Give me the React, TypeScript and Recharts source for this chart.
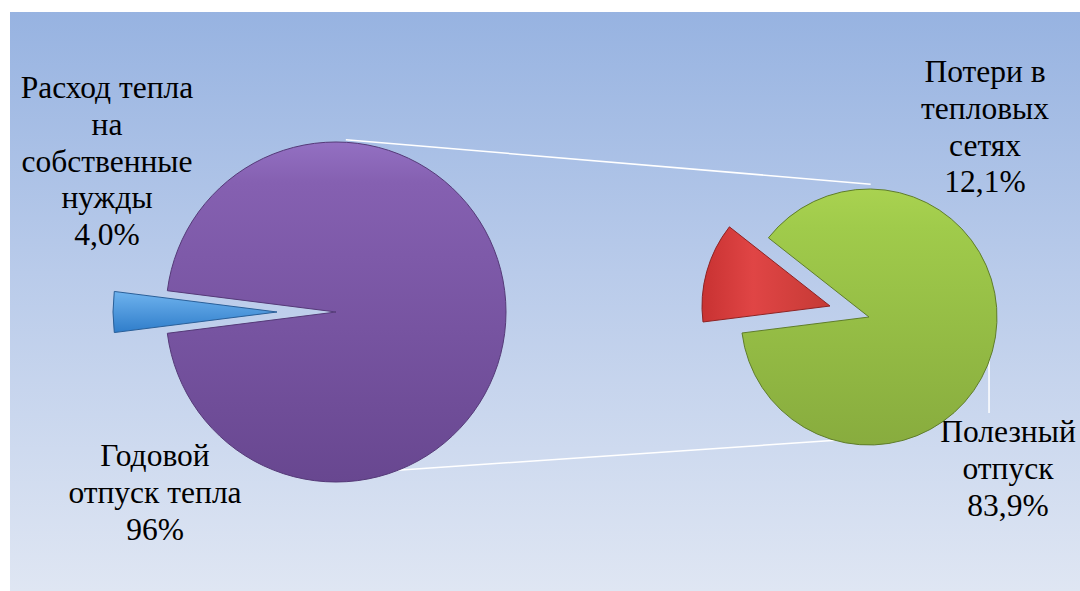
import { PieChart, Pie, Cell, Customized } from 'recharts';

// left pie: whole heat output
const leftNames = [
  ['Расход тепла', 'на', 'собственные', 'нужды'],
  ['Годовой', 'отпуск тепла'],
];
const leftValues = [4.0, 96];
const leftPercents = ['4,0%', '96%'];

// right pie: breakdown of the annual output
const rightNames = [
  ['Потери в', 'тепловых', 'сетях'],
  ['Полезный', 'отпуск'],
];
const rightValues = [12.1, 83.9];
const rightPercents = ['12,1%', '83,9%'];

const leftData = leftNames.map((n, i) => ({ name: n.join(' '), value: leftValues[i] }));
const rightData = rightNames.map((n, i) => ({ name: n.join(' '), value: rightValues[i] }));

const W = 1080;
const H = 591;

// pie geometry
const L = { cx: 331, cy: 307, r: 170, start: 172.8 };
const R = { cx: 864, cy: 312, r: 128, start: 141.8 };
const leftBurst = { dx: -59, dy: 0 };
const rightBurst = { dx: -39, dy: -11 };

const FONT = 'Liberation Serif';
const FS = 31.5;
const LH = 36.8;

const labelPos = [
  { x: 107, y: 98, lines: [...leftNames[0], leftPercents[0]] },
  { x: 155, y: 466, lines: [...leftNames[1], leftPercents[1]] },
  { x: 985, y: 82, lines: [...rightNames[0], rightPercents[0]] },
  { x: 1008, y: 442, lines: [...rightNames[1], rightPercents[1]] },
];

const polar = (c: { cx: number; cy: number; r: number }, deg: number) => ({
  x: c.cx + c.r * Math.cos((deg * Math.PI) / 180),
  y: c.cy - c.r * Math.sin((deg * Math.PI) / 180),
});

const css = `
#root svg text.lbl, #root svg text.lbl tspan, #root .recharts-wrapper svg text.lbl {
  font-family: 'Liberation Serif', 'Times New Roman', serif !important;
}
`;

function Defs() {
  return (
    <defs>
      <linearGradient id="gPurple" x1="0" y1="0" x2="0" y2="1">
        <stop offset="0%" stopColor="#9370c2" />
        <stop offset="12%" stopColor="#8560b1" />
        <stop offset="100%" stopColor="#684790" />
      </linearGradient>
      <linearGradient id="gBlue" x1="0" y1="0" x2="0" y2="1">
        <stop offset="0%" stopColor="#6fb3ee" />
        <stop offset="100%" stopColor="#2f7dca" />
      </linearGradient>
      <linearGradient id="gGreen" x1="0" y1="0" x2="0" y2="1">
        <stop offset="0%" stopColor="#a9d250" />
        <stop offset="15%" stopColor="#a0cb4b" />
        <stop offset="100%" stopColor="#88ac3e" />
      </linearGradient>
      <linearGradient id="gRed" x1="0" y1="0" x2="1" y2="0">
        <stop offset="0%" stopColor="#c83232" />
        <stop offset="40%" stopColor="#e04545" />
        <stop offset="100%" stopColor="#c53a35" />
      </linearGradient>
    </defs>
  );
}

// connector lines between the two pies, the leader line and the labels
function Overlay() {
  const lt = polar(L, 85);
  const lb = polar(L, -76);
  const rt = polar(R, 87);
  const rb = polar(R, -96);
  const lead = polar(R, 16);
  return (
    <g>
      <line x1={lt.x} y1={lt.y + 2} x2={rt.x} y2={rt.y} stroke="#ffffff" strokeWidth={1.5} />
      <line x1={lb.x} y1={lb.y} x2={rb.x} y2={rb.y} stroke="#ffffff" strokeWidth={1.5} />
      <line x1={lead.x + 2} y1={lead.y + 1} x2={lead.x + 2} y2={413} stroke="#ffffff" strokeWidth={1.5} />
      {labelPos.map((lab, i) => (
        <text
          key={i}
          className="lbl"
          x={lab.x}
          y={lab.y}
          textAnchor="middle"
          fill="#000"
          fontFamily={FONT}
          style={{ fontFamily: FONT, fontSize: FS }}
        >
          {lab.lines.map((t, j) => (
            <tspan key={j} x={lab.x} y={lab.y + j * LH}>
              {t}
            </tspan>
          ))}
        </text>
      ))}
    </g>
  );
}

export default function App() {
  return (
    <div style={{ position: 'absolute', left: 0, top: 0, width: W, height: H, background: '#ffffff' }}>
      <style>{css}</style>
      <div
        style={{
          position: 'absolute',
          left: 10,
          top: 12,
          width: W - 10,
          height: H - 12,
          background: 'linear-gradient(to bottom, #97b3e1 0%, #b9cbea 45%, #dfe6f3 100%)',
        }}
      />
      <div style={{ position: 'absolute', left: 0, top: 0 }}>
        <PieChart width={W} height={H}>
          <Customized component={Defs} />
          {/* main part of the left pie */}
          <Pie
            data={leftData}
            dataKey="value"
            cx={L.cx}
            cy={L.cy}
            outerRadius={L.r}
            startAngle={L.start}
            endAngle={L.start + 360}
            isAnimationActive={false}
          >
            <Cell fill="none" stroke="none" />
            <Cell fill="url(#gPurple)" stroke="#553a78" strokeWidth={1} />
          </Pie>
          {/* exploded slice of the left pie */}
          <Pie
            data={leftData}
            dataKey="value"
            cx={L.cx + leftBurst.dx}
            cy={L.cy + leftBurst.dy}
            outerRadius={L.r - 6}
            startAngle={L.start}
            endAngle={L.start + 360}
            isAnimationActive={false}
          >
            <Cell fill="url(#gBlue)" stroke="#2a5f98" strokeWidth={1} />
            <Cell fill="none" stroke="none" />
          </Pie>
          {/* main part of the right pie */}
          <Pie
            data={rightData}
            dataKey="value"
            cx={R.cx}
            cy={R.cy}
            outerRadius={R.r}
            startAngle={R.start}
            endAngle={R.start + 360}
            isAnimationActive={false}
          >
            <Cell fill="none" stroke="none" />
            <Cell fill="url(#gGreen)" stroke="#5f7d2a" strokeWidth={1} />
          </Pie>
          {/* exploded slice of the right pie */}
          <Pie
            data={rightData}
            dataKey="value"
            cx={R.cx + rightBurst.dx}
            cy={R.cy + rightBurst.dy}
            outerRadius={R.r}
            startAngle={R.start}
            endAngle={R.start + 360}
            isAnimationActive={false}
          >
            <Cell fill="url(#gRed)" stroke="#8e2424" strokeWidth={1} />
            <Cell fill="none" stroke="none" />
          </Pie>
          <Customized component={Overlay} />
        </PieChart>
      </div>
    </div>
  );
}
